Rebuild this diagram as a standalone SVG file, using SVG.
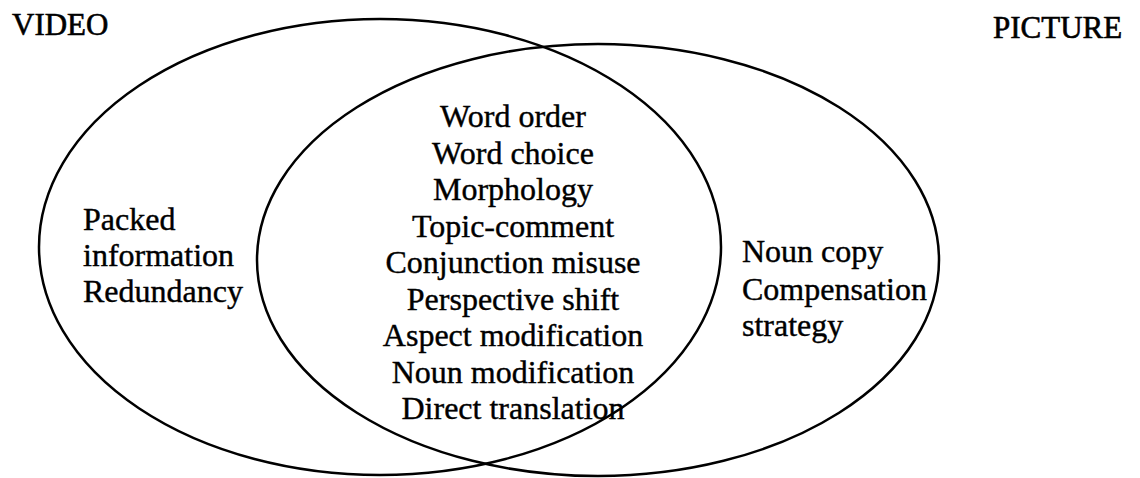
<svg xmlns="http://www.w3.org/2000/svg" width="1140" height="478" viewBox="0 0 1140 478">
<style>
.t{font-family:"Liberation Serif","Times New Roman",serif;font-size:32px;fill:#000;stroke:#000;stroke-width:0.4}
.h{font-family:"Liberation Serif","Times New Roman",serif;font-size:31px;fill:#000;stroke:#000;stroke-width:0.6}
.e{fill:none;stroke:#000;stroke-width:2.5}
</style>
<rect width="1140" height="478" fill="#fff"/>
<g id="connectors"></g>
<g id="video">
<ellipse class="e" cx="380" cy="247" rx="341" ry="228"/>
<text class="h" x="12" y="35">VIDEO</text>
<text class="t" x="83" y="230">Packed</text>
<text class="t" x="83" y="266">information</text>
<text class="t" x="83" y="302">Redundancy</text>
</g>
<g id="picture">
<ellipse class="e" cx="598" cy="260" rx="341" ry="216"/>
<text class="h" x="993" y="38">PICTURE</text>
<text class="t" x="742" y="262">Noun copy</text>
<text class="t" x="742" y="300">Compensation</text>
<text class="t" x="742" y="336">strategy</text>
</g>
<g id="shared">
<text class="t" text-anchor="middle" x="513" y="127">Word order</text>
<text class="t" text-anchor="middle" x="513" y="163.5">Word choice</text>
<text class="t" text-anchor="middle" x="513" y="200">Morphology</text>
<text class="t" text-anchor="middle" x="513" y="236.5">Topic-comment</text>
<text class="t" text-anchor="middle" x="513" y="273">Conjunction misuse</text>
<text class="t" text-anchor="middle" x="513" y="309.5">Perspective shift</text>
<text class="t" text-anchor="middle" x="513" y="346">Aspect modification</text>
<text class="t" text-anchor="middle" x="513" y="382.5">Noun modification</text>
<text class="t" text-anchor="middle" x="513" y="419">Direct translation</text>
</g>
</svg>
